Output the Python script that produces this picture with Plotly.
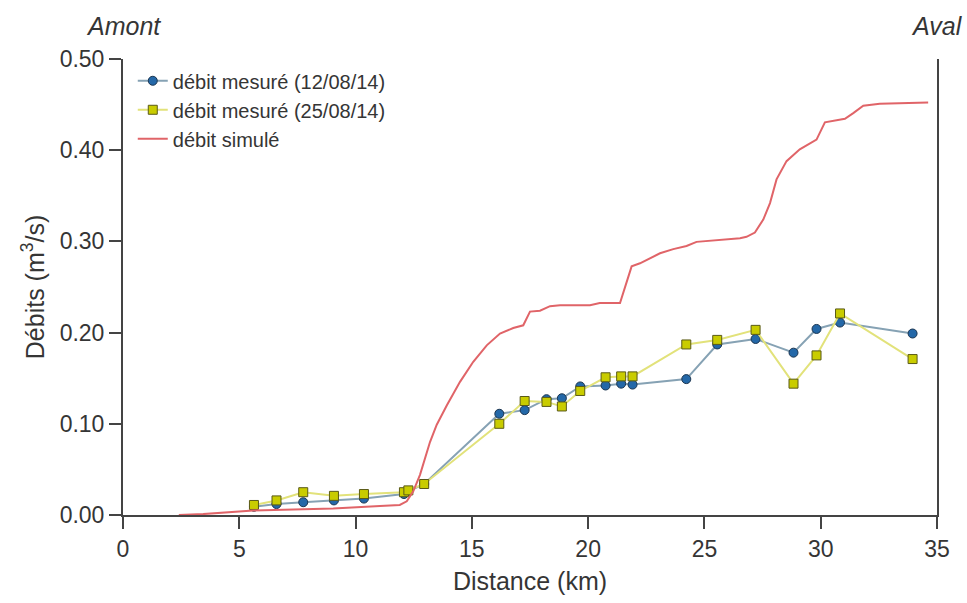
import plotly.graph_objects as go

# Measured discharge, campaign of 12/08/14
km_1208 = [5.63, 6.6, 7.75, 9.07, 10.36, 12.08, 12.27, 12.95, 16.18, 17.27, 18.21, 18.87,
           19.66, 20.75, 21.42, 21.91, 24.22, 25.55, 27.2, 28.83, 29.82, 30.83, 33.95]
q_1208 = [0.009, 0.012, 0.014, 0.016, 0.018, 0.023, 0.026, 0.034, 0.111, 0.115, 0.127, 0.128,
          0.141, 0.142, 0.144, 0.143, 0.149, 0.187, 0.193, 0.178, 0.204, 0.211, 0.199]

# Measured discharge, campaign of 25/08/14
km_2508 = [5.63, 6.6, 7.75, 9.07, 10.36, 12.08, 12.27, 12.95, 16.18, 17.27, 18.21, 18.87,
           19.66, 20.75, 21.42, 21.91, 24.22, 25.55, 27.2, 28.83, 29.82, 30.83, 33.95]
q_2508 = [0.011, 0.016, 0.025, 0.021, 0.023, 0.025, 0.027, 0.034, 0.100, 0.125, 0.124, 0.119,
          0.136, 0.151, 0.152, 0.152, 0.187, 0.192, 0.203, 0.144, 0.175, 0.221, 0.171]

# Simulated discharge along the river
km_sim = [2.4, 3.45, 5.6, 9.04, 11.05, 11.9, 12.2, 12.48, 12.77, 12.98, 13.2, 13.49, 13.92,
          14.49, 15.06, 15.64, 16.21, 16.78, 17.21, 17.5, 17.93, 18.36, 18.79, 20.08, 20.5,
          21.37, 21.87, 22.23, 23.09, 23.66, 24.23, 24.66, 25.67, 26.53, 26.81, 27.17, 27.53,
          27.82, 28.1, 28.53, 29.1, 29.82, 30.18, 31.04, 31.4, 31.83, 32.54, 34.62]
q_sim = [0.0, 0.001, 0.005, 0.007, 0.010, 0.011, 0.015, 0.026, 0.044, 0.062, 0.080, 0.099,
         0.120, 0.146, 0.168, 0.186, 0.199, 0.205, 0.208, 0.223, 0.224, 0.229, 0.230, 0.230,
         0.2325, 0.2325, 0.2726, 0.276, 0.287, 0.2915, 0.295, 0.2995, 0.3015, 0.3035, 0.305,
         0.3097, 0.324, 0.342, 0.368, 0.388, 0.401, 0.4116, 0.4305, 0.4345, 0.4407, 0.4487,
         0.451, 0.4523]

x_ticks = [0, 5, 10, 15, 20, 25, 30, 35]
y_ticks = [0.0, 0.1, 0.2, 0.3, 0.4, 0.5]

FONT = "Liberation Sans, Arial, sans-serif"
TXT = "#353535"
AX = "#444444"

fig = go.Figure()
fig.add_trace(go.Scatter(
    x=km_1208, y=q_1208, mode="lines+markers", name="débit mesuré (12/08/14)",
    line=dict(color="#86a2b4", width=2),
    marker=dict(symbol="circle", size=9, color="#2468a8", line=dict(color="#1b3550", width=1)),
))
fig.add_trace(go.Scatter(
    x=km_2508, y=q_2508, mode="lines+markers", name="débit mesuré (25/08/14)",
    line=dict(color="#e2e27a", width=2),
    marker=dict(symbol="square", size=9, color="#c9cc00", line=dict(color="#5a5a18", width=1)),
))
fig.add_trace(go.Scatter(
    x=km_sim, y=q_sim, mode="lines", name="débit simulé",
    line=dict(color="#e06468", width=2),
))

fig.update_layout(
    width=967, height=603,
    margin=dict(l=123, r=30, t=59, b=86),
    paper_bgcolor="white", plot_bgcolor="white",
    font=dict(family=FONT, color=TXT, size=22),
    showlegend=True,
    legend=dict(
        x=0.012, y=0.995, xanchor="left", yanchor="top",
        bgcolor="rgba(0,0,0,0)", borderwidth=0,
        font=dict(family=FONT, size=20, color=TXT),
        tracegroupgap=0, itemwidth=30,
    ),
    xaxis=dict(
        range=[0, 35], tickvals=x_ticks, ticktext=[str(v) for v in x_ticks],
        showgrid=False, zeroline=False,
        showline=True, linecolor=AX, linewidth=2,
        ticks="outside", ticklen=12, tickwidth=2, tickcolor=AX,
        tickfont=dict(family=FONT, size=23, color=TXT),
        title=dict(text="Distance (km)", font=dict(family=FONT, size=25, color=TXT), standoff=12),
        mirror=False,
    ),
    yaxis=dict(
        range=[0, 0.5], tickvals=y_ticks, ticktext=[f"{v:.2f}" for v in y_ticks],
        showgrid=False, zeroline=False,
        showline=True, linecolor=AX, linewidth=2, mirror=True,
        ticks="outside", ticklen=12, tickwidth=2, tickcolor=AX,
        tickfont=dict(family=FONT, size=23, color=TXT),
        title=dict(text="Débits (m<sup>3</sup>/s)", font=dict(family=FONT, size=25, color=TXT),
                   standoff=8),
    ),
    annotations=[
        dict(text="<i>Amont</i>", x=0, y=1.072, xref="paper", yref="paper",
             xanchor="center", yanchor="middle", showarrow=False,
             font=dict(family=FONT, size=25, color=TXT)),
        dict(text="<i>Aval</i>", x=1, y=1.072, xref="paper", yref="paper",
             xanchor="center", yanchor="middle", showarrow=False,
             font=dict(family=FONT, size=25, color=TXT)),
    ],
)

fig.write_html("out.html")
